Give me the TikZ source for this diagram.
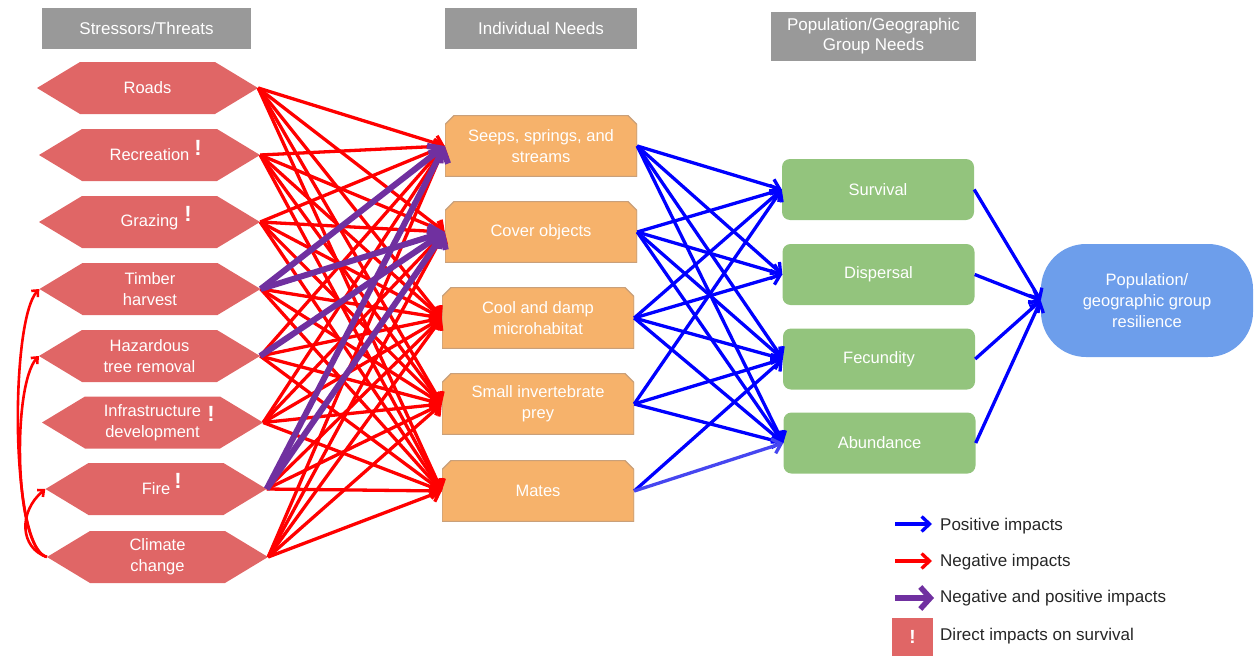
\documentclass[tikz,border=0pt]{standalone}
\usepackage{fontspec}
\setmainfont{Liberation Sans}
\usetikzlibrary{arrows.meta}
\definecolor{sred}{HTML}{E06666}
\definecolor{nor}{HTML}{F6B26B}
\definecolor{nordr}{HTML}{C9A07A}
\definecolor{ngr}{HTML}{93C47D}
\definecolor{nbl}{HTML}{6D9EEB}
\definecolor{hgray}{HTML}{999999}
\definecolor{pur}{RGB}{112,48,160}
\definecolor{lblue}{RGB}{70,70,240}
\tikzset{
  lbl/.style={font=\fontsize{16.5}{21}\selectfont, text=white, align=center},
  stress/.style={lbl, minimum width=221pt, minimum height=52pt, inner sep=0pt,
    path picture={\fill[sred] (path picture bounding box.west)
      -- ([xshift=43pt]path picture bounding box.north west)
      -- ([xshift=-43pt]path picture bounding box.north east)
      -- (path picture bounding box.east)
      -- ([xshift=-43pt]path picture bounding box.south east)
      -- ([xshift=43pt]path picture bounding box.south west) -- cycle;}},
  needbox/.style={lbl, minimum width=192pt, minimum height=61pt, inner sep=0pt,
    path picture={\filldraw[fill=nor, draw=nordr, line width=1.2pt]
      (path picture bounding box.south west)
      -- ([yshift=-9pt]path picture bounding box.north west)
      -- ([xshift=9pt]path picture bounding box.north west)
      -- ([xshift=-9pt]path picture bounding box.north east)
      -- ([yshift=-9pt]path picture bounding box.north east)
      -- (path picture bounding box.south east) -- cycle;}},
  grpbox/.style={lbl, fill=ngr, rounded corners=8pt, minimum width=192pt, minimum height=61pt, inner sep=0pt},
  hdr/.style={lbl, fill=hgray, inner sep=0pt, font=\fontsize{17}{20}\selectfont},
  bang/.style={text=white, font=\fontsize{22}{22}\selectfont\bfseries, inner sep=0pt},
  negarr/.style={draw=red, line width=3.3pt, -{Straight Barb[length=8pt,width=15pt]}},
  botharr/.style={draw=pur, line width=6pt, -{Straight Barb[length=10pt,width=22pt]}},
  posarr/.style={draw=blue, line width=3.3pt, -{Straight Barb[length=8pt,width=15pt]}},
  poslarr/.style={draw=lblue, line width=3.3pt, -{Straight Barb[length=8pt,width=15pt]}},
  feedarr/.style={draw=red, line width=2.6pt, -{Straight Barb[length=5pt,width=9pt]}},
  legtxt/.style={font=\fontsize{17}{20}\selectfont, text=black!85, anchor=west, inner sep=0pt}
}
\begin{document}
\begin{tikzpicture}[x=1pt,y=-1pt]
\useasboundingbox (0,0) rectangle (1254,656);
% headers
\node[hdr, minimum width=209pt, minimum height=41pt] (h1) at (146.5,28.5) {Stressors/Threats};
\node[hdr, minimum width=192pt, minimum height=41pt] (h2) at (541,28.5) {Individual Needs};
\node[hdr, minimum width=205pt, minimum height=49pt] (h3) at (873.5,36.5) {Population/Geographic\\Group Needs};
% stressors
\node[stress] (roads) at (147.5,88) {Roads};
\node[stress] (rec) at (149.5,155) {Recreation};
\node[stress] (graz) at (149.5,222) {Grazing};
\node[stress] (timber) at (150,289) {Timber\\harvest};
\node[stress] (haz) at (149.5,356) {Hazardous\\tree removal};
\node[stress] (infra) at (152.5,422.5) {Infrastructure\\development};
\node[stress] (fire) at (156,489) {Fire};
\node[stress] (clim) at (157.5,557) {Climate\\change};
\node[bang] (b1) at (198,148) {!};
\node[bang] (b2) at (188,214) {!};
\node[bang] (b3) at (211,414) {!};
\node[bang] (b4) at (178,481) {!};
% needs
\node[needbox] (seeps) at (541,146) {Seeps, springs, and\\streams};
\node[needbox] (cover) at (541,232) {Cover objects};
\node[needbox] (cool) at (538,318) {Cool and damp\\microhabitat};
\node[needbox] (small) at (538,404) {Small invertebrate\\prey};
\node[needbox] (mates) at (538,491) {Mates};
% group needs
\node[grpbox] (surv) at (878,189.5) {Survival};
\node[grpbox] (disp) at (878.5,274.5) {Dispersal};
\node[grpbox] (fec) at (879,359) {Fecundity};
\node[grpbox] (abun) at (879.5,443) {Abundance};
\node[lbl, fill=nbl, rounded corners=45pt, minimum width=212pt, minimum height=113pt, inner sep=0pt] (res) at (1147,300.5) {Population/\\geographic group\\resilience};
% red arrows
\foreach \s/\t in {roads/seeps,roads/cover,roads/cool,roads/small,roads/mates,
  rec/seeps,rec/cover,rec/cool,rec/small,rec/mates,
  graz/seeps,graz/cover,graz/cool,graz/small,graz/mates,
  timber/cool,timber/small,timber/mates,
  haz/seeps,haz/cool,haz/small,haz/mates,
  infra/seeps,infra/cover,infra/cool,infra/small,infra/mates,
  fire/cool,fire/small,fire/mates,
  clim/seeps,clim/cover,clim/cool,clim/small,clim/mates}
  \draw[negarr] (\s.east) -- (\t.west);
% purple arrows
\foreach \s/\t in {timber/seeps,timber/cover,haz/cover,fire/seeps,fire/cover}
  \draw[botharr] (\s.east) -- (\t.west);
% blue arrows
\foreach \s/\t in {seeps/surv,seeps/disp,seeps/fec,seeps/abun,
  cover/surv,cover/disp,cover/fec,cover/abun,
  cool/surv,cool/disp,cool/fec,cool/abun,
  small/surv,small/fec,small/abun,
  mates/fec}
  \draw[posarr] (\s.east) -- (\t.west);
\draw[poslarr] (mates.east) -- (abun.west);
\foreach \s in {surv,disp,fec,abun}
  \draw[posarr] (\s.east) -- (res.west);
% feedback curves
\draw[feedarr] (clim.west) .. controls (20,548) and (18,512) .. (fire.west);
\draw[feedarr] (clim.west) .. controls (14,548) and (12,385) .. (haz.west);
\draw[feedarr] (clim.west) .. controls (10,548) and (10,320) .. (timber.west);
% legend
\coordinate (l1a) at (895,524); \coordinate (l1b) at (932,524);
\coordinate (l2a) at (895,561); \coordinate (l2b) at (932,561);
\coordinate (l3a) at (895,598); \coordinate (l3b) at (934,598);
\draw[posarr] (l1a) -- (l1b);
\draw[negarr] (l2a) -- (l2b);
\draw[botharr, line width=5.5pt] (l3a) -- (l3b);
\node[legtxt] (t1) at (940,526) {Positive impacts};
\node[legtxt] (t2) at (940,562) {Negative impacts};
\node[legtxt] (t3) at (940,598) {Negative and positive impacts};
\node[fill=sred, minimum width=41pt, minimum height=39pt, inner sep=0pt, text=white, font=\fontsize{19}{19}\selectfont\bfseries] (lbox) at (912.5,637) {!};
\node[legtxt] (t4) at (940,636) {Direct impacts on survival};
\end{tikzpicture}
\end{document}
